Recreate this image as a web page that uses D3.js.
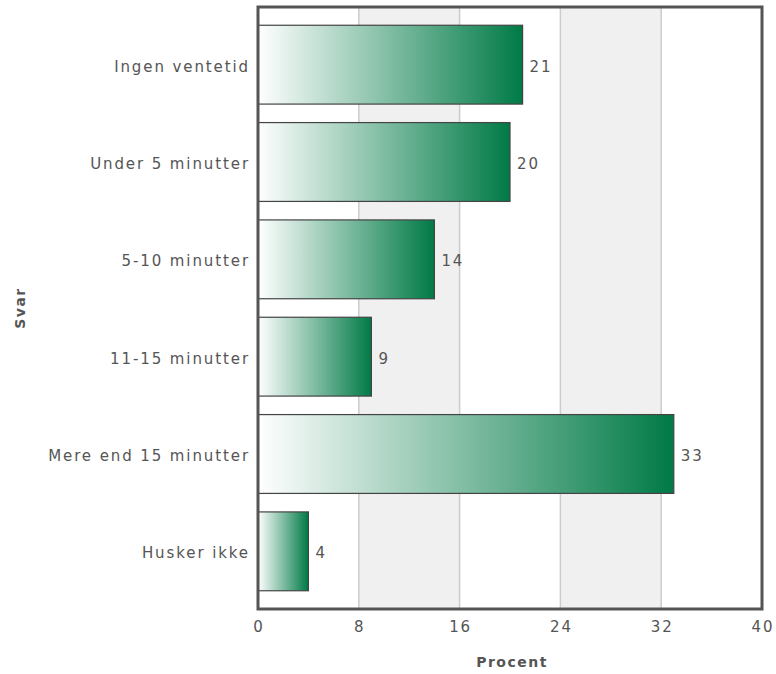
<!DOCTYPE html>
<html><head><meta charset="utf-8">
<script src="https://cdn.jsdelivr.net/npm/d3@7"></script>
<style>
body{margin:0;background:#fff;}
svg text{font-family:"DejaVu Sans",Verdana,sans-serif;}
</style></head>
<body><svg id="c" width="776" height="674"></svg>
<script>
const categories = ["Ingen ventetid","Under 5 minutter","5-10 minutter","11-15 minutter","Mere end 15 minutter","Husker ikke"];
const values = [21,20,14,9,33,4];
const xTicks = [0,8,16,24,32,40];
const xTitle = "Procent";
const yTitle = "Svar";

const svg = d3.select("#c");
const L=258,R=762,T=7,B=609;
const x = d3.scaleLinear().domain([0,40]).range([L,R]);
const y = d3.scaleBand().domain(categories).range([16,600]).paddingInner(0.19).paddingOuter(0.095);

const defs = svg.append("defs");
const g = defs.append("linearGradient").attr("id","grad").attr("x1","0").attr("x2","1").attr("y1","0").attr("y2","0");
g.append("stop").attr("offset","0").attr("stop-color","#ffffff");
g.append("stop").attr("offset","1").attr("stop-color","#007a46");

// bands
const bands = [[8,16],[24,32]];
svg.selectAll("rect.band").data(bands).enter().append("rect")
  .attr("x",d=>x(d[0])).attr("y",T).attr("width",d=>x(d[1])-x(d[0])).attr("height",B-T)
  .attr("fill","#f0f0f0");
// grid
svg.selectAll("line.grid").data(xTicks.slice(1,-1)).enter().append("line")
  .attr("x1",d=>x(d)).attr("x2",d=>x(d)).attr("y1",T).attr("y2",B)
  .attr("stroke","#cccccc").attr("stroke-width",1.5);

// bars
svg.selectAll("rect.bar").data(values).enter().append("rect")
  .attr("x",x(0)).attr("y",(d,i)=>y(categories[i]))
  .attr("width",d=>x(d)-x(0)).attr("height",y.bandwidth())
  .attr("fill","url(#grad)").attr("stroke","#444").attr("stroke-width",1.2);

const fs = 15, ls = 1.9;
// value labels
svg.selectAll("text.val").data(values).enter().append("text")
  .attr("x",d=>x(d)+7).attr("y",(d,i)=>y(categories[i])+y.bandwidth()/2+7)
  .attr("font-size",fs).attr("letter-spacing",ls).attr("fill","#555").text(d=>d);

// category labels
svg.selectAll("text.cat").data(categories).enter().append("text")
  .attr("x",L-8).attr("y",d=>y(d)+y.bandwidth()/2+7).attr("text-anchor","end")
  .attr("font-size",fs).attr("letter-spacing",ls).attr("fill","#555").text(d=>d);

// x tick labels
svg.selectAll("text.tick").data(xTicks).enter().append("text")
  .attr("x",d=>x(d)+1).attr("y",632).attr("text-anchor","middle")
  .attr("font-size",fs).attr("letter-spacing",ls).attr("fill","#555").text(d=>d);

// frame
svg.append("rect").attr("x",L).attr("y",T).attr("width",R-L).attr("height",B-T)
  .attr("fill","none").attr("stroke","#555").attr("stroke-width",3);

// titles
svg.append("text").attr("x",(L+R)/2+2).attr("y",667).attr("text-anchor","middle")
  .attr("font-size",14).attr("font-weight","bold").attr("letter-spacing",1.5).attr("fill","#555").text(xTitle);
svg.append("text").attr("transform","translate(25,308) rotate(-90)").attr("text-anchor","middle")
  .attr("font-size",14).attr("font-weight","bold").attr("letter-spacing",1.5).attr("fill","#555").text(yTitle);
</script></body></html>
